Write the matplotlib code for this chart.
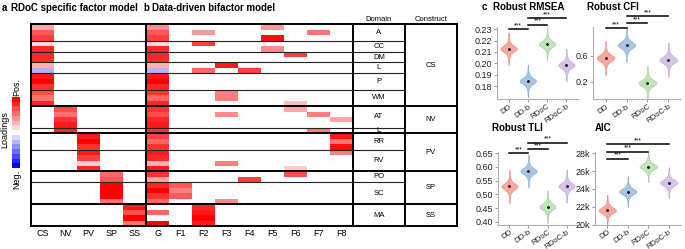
import numpy as np
import matplotlib
matplotlib.use("Agg")
import matplotlib.pyplot as plt
from matplotlib.colors import LinearSegmentedColormap

plt.rcParams['font.family'] = ['Liberation Sans', 'DejaVu Sans']

# ---------------- data ----------------
# domains (rows of heatmap) with number of items
domain_labels = ["A", "CC", "DM", "L", "P", "WM", "AT", "L", "RR", "RV", "PO", "SC", "MA"]
domain_sizes = [3, 2, 2, 2, 3, 3, 4, 1, 3, 4, 2, 4, 4]
construct_labels = ["CS", "NV", "PV", "SP", "SS"]
construct_ndomains = [6, 2, 2, 2, 1]

col_labels = ["CS", "NV", "PV", "SP", "SS", "G", "F1", "F2", "F3", "F4", "F5", "F6", "F7", "F8"]

z = [0.0]
CS = [0.35, 0.65, 0.75, 0.15, 0.85, 0.85, 0.85, 0.3, -0.3, 0.9, 1.0, 0.8, 0.7, 0.55, 0.85] + z * 22
NV = z * 15 + [0.7, 0.55, 0.8, 0.9, 0.85] + z * 17
PV = z * 20 + [0.9, 1.0, 0.8, 0.9, 0.75, 0.2, 0.85] + z * 10
SP = z * 27 + [0.6, 0.65, 1.0, 1.0, 1.0, 0.55] + z * 4
SS = z * 33 + [0.9, 0.7, 1.0, 0.55]
G = [0.45, 0.65, 0.75, 0.15, 0.85, 0.85, 0.85, 0.3, -0.3, 0.9, 1.0, 0.85, 0.8, 0.6, 0.85,
     0.8, 0.7, 0.85, 0.9, 0.8, 0.75, 0.6, 0.8, 0.9, 0.85, 0.3, 0.9, 0.8, 0.35, 0.85, 1.0,
     0.8, 0.6, 0.0, 0.6, 0.0, 1.0]
F1 = z * 29 + [0.65, 0.5, 0.65] + z * 5
F2 = [0, 0.4, 0, 0.75, 0, 0, 0, 0, 0.6] + z * 24 + [0.85, 0.9, 1.0, 0.9]
F3 = [0, 0, 0, 0, 0, 0, 0, 0.9, 0, 0, 0, 0, 0.5, 0.5, 0, 0, 0.45] + z * 8 + [0.5] + z * 6 + [0.45] + z * 4
F4 = z * 8 + [0.75] + z * 19 + [0.75] + z * 8
F5 = [0.4, 0, 0.95, 0, 0.45] + z * 32
F6 = z * 5 + [0.75] + z * 8 + [0.25, 0.35] + z * 10 + [0.2, 0.7] + z * 9
F7 = [0, 0.55] + z * 14 + [0.5, 0, 0, 0.5] + z * 17
F8 = z * 17 + [0.35, 0, 0, 0.9, 0.55, 0.95, 0.5] + z * 13

groups = ["DD", "DD-b", "RDoC", "RDoC-b"]
rmsea_center = [0.2130, 0.1845, 0.2170, 0.1985]
rmsea_spread = [0.0030, 0.0030, 0.0030, 0.0030]
cfi_center = [0.57, 0.77, 0.18, 0.54]
cfi_spread = [0.055, 0.055, 0.055, 0.055]
tli_center = [0.529, 0.585, 0.455, 0.530]
tli_spread = [0.0125, 0.0125, 0.0125, 0.0125]
aic_center = [21.6, 23.7, 26.5, 24.7]
aic_spread = [0.36, 0.36, 0.36, 0.36]

rmsea_sig = [(1, 2, 0.2300), (2, 3, 0.2338), (2, 4, 0.2398)]
cfi_sig = [(1, 2, 1.031), (2, 3, 1.109), (2, 4, 1.215)]
tli_sig = [(1, 2, 0.650), (2, 3, 0.664), (2, 4, 0.688)]
aic_sig = [(1, 2, 27.38), (1, 3, 28.17), (1, 4, 29.0)]

violin_fill = ["#F8A89E", "#A8C6E4", "#BFE5B8", "#D8C3E8"]
violin_edge = ["#E89088", "#8FB0D2", "#A5D09D", "#C2A9D6"]

# ---------------- figure ----------------
W, H = 685, 249
fig = plt.figure(figsize=(W / 100, H / 100), dpi=100)


def px_axes(l, t, r, b):
    return fig.add_axes([l / W, 1 - b / H, (r - l) / W, (b - t) / H])


def ftext(x, y, s, **kw):
    fig.text(x / W, 1 - y / H, s, **kw)


cmap = LinearSegmentedColormap.from_list("rwb", [(0, 0, 1), (1, 1, 1), (1, 0, 0)])

M = np.array([CS, NV, PV, SP, SS, G, F1, F2, F3, F4, F5, F6, F7, F8], dtype=float).T
nrow, ncol = M.shape

ax = px_axes(31, 24.3, 353, 226)
ax.pcolormesh(np.arange(ncol + 1), np.arange(nrow + 1), M, cmap=cmap, vmin=-1, vmax=1)
ax.set_xlim(0, ncol)
ax.set_ylim(nrow, 0)
ax.set_xticks(np.arange(ncol) + 0.5)
ax.set_xticklabels(col_labels, fontsize=6.5)
ax.tick_params(axis='x', length=0, pad=2.5)
ax.set_yticks([])
for s in ax.spines.values():
    s.set_linewidth(1.4)

dom_bounds = np.cumsum(domain_sizes)
con_bounds = []
k = 0
for n in construct_ndomains:
    k += n
    con_bounds.append(dom_bounds[k - 1])
for b in dom_bounds[:-1]:
    if b in con_bounds:
        ax.axhline(b, color='black', lw=1.4)
    else:
        ax.axhline(b, color='#222222', lw=0.8)
ax.axvline(5, color='black', lw=1.4)

# table
tb = px_axes(353, 24.3, 457, 226)
tb.set_xlim(0, 2)
tb.set_ylim(nrow, 0)
tb.set_xticks([])
tb.set_yticks([])
for s in tb.spines.values():
    s.set_linewidth(1.4)
tb.axvline(1, color='black', lw=1.4)
start = 0
for lab, n in zip(domain_labels, domain_sizes):
    tb.text(0.5, start + n / 2, lab, ha='center', va='center', fontsize=5.5)
    start += n
for b in dom_bounds[:-1]:
    if b in con_bounds:
        tb.plot([0, 2], [b, b], color='black', lw=1.4)
    else:
        tb.plot([0, 1], [b, b], color='#222222', lw=0.8)
prev = 0
for lab, b in zip(construct_labels, con_bounds):
    tb.text(1.5, (prev + b) / 2, lab, ha='center', va='center', fontsize=5.5)
    prev = b
tb.text(0.5, -0.3, "Domain", ha='center', va='bottom', fontsize=5.5)
tb.text(1.5, -0.3, "Construct", ha='center', va='bottom', fontsize=5.5)

# colorbar
cb = px_axes(12, 97, 20, 168)
cb.imshow(np.linspace(1, -1, 15).reshape(-1, 1), cmap=cmap, vmin=-1, vmax=1, aspect='auto')
cb.axis('off')
ftext(16.5, 87, "Pos.", rotation=90, ha='center', va='center', fontsize=6.5)
ftext(16.5, 179, "Neg.", rotation=90, ha='center', va='center', fontsize=6.5)
ftext(5, 130, "Loadings", rotation=90, ha='center', va='center', fontsize=6.5)

# panel titles
ftext(2, 8, "a", fontsize=7, fontweight='bold', va='center')
ftext(11, 8, "RDoC specific factor model", fontsize=7, fontweight='bold', va='center')
ftext(143, 8, "b", fontsize=7, fontweight='bold', va='center')
ftext(152, 8, "Data-driven bifactor model", fontsize=7, fontweight='bold', va='center')


# ---------------- violins ----------------
def t_density(center, spread):
    coords = np.linspace(center - 4.8 * spread, center + 4.8 * spread, 200)
    zz = (coords - center) / spread
    vals = (1 + zz ** 2 / 3.0) ** -2
    return dict(coords=coords, vals=vals, mean=center, median=center,
                min=coords[0], max=coords[-1])


def violin_panel(box, centers, spreads, ylim, yticks, yticklabels, sig):
    a = px_axes(*box)
    pos = np.arange(1, len(groups) + 1)
    stats = [t_density(c, s) for c, s in zip(centers, spreads)]
    parts = a.violin(stats, positions=pos, widths=0.85, showmeans=False,
                     showextrema=False, showmedians=False)
    for body, fc, ec in zip(parts['bodies'], violin_fill, violin_edge):
        body.set_facecolor(fc)
        body.set_edgecolor(ec)
        body.set_alpha(1)
        body.set_linewidth(0.5)
    a.scatter(pos, centers, s=1.0, color='black', zorder=3)
    a.set_xlim(0.4, 4.6)
    a.set_ylim(*ylim)
    a.set_yticks(yticks)
    a.set_yticklabels(yticklabels, fontsize=6.5, color='#222222')
    a.set_xticks(pos)
    a.set_xticklabels(groups, fontsize=5.6, rotation=35, ha='right', rotation_mode='anchor',
                      color='#222222')
    a.tick_params(length=2, width=0.6, color='#888888', pad=1.2)
    a.tick_params(axis='x', pad=0.8)
    for sp in ['top', 'right']:
        a.spines[sp].set_visible(False)
    for sp in ['left', 'bottom']:
        a.spines[sp].set_color('#b0b0b0')
        a.spines[sp].set_linewidth(0.8)
    rng = ylim[1] - ylim[0]
    for g1, g2, y in sig:
        a.plot([g1, g2], [y, y], color='black', lw=1.1, clip_on=False)
        a.text((g1 + g2) / 2, y + rng * 0.002, "***", ha='center', va='bottom',
               fontsize=4.8, clip_on=False)
    return a


violin_panel((497, 26.7, 578, 99.3), rmsea_center, rmsea_spread, (0.1683, 0.2323),
             [0.18, 0.19, 0.20, 0.21, 0.22, 0.23], ["0.18", "0.19", "0.20", "0.21", "0.22", "0.23"],
             rmsea_sig)
violin_panel((593, 26.7, 681, 99.3), cfi_center, cfi_spread, (-0.074, 1.056),
             [0.2, 0.6], ["0.2", "0.6"], cfi_sig)
violin_panel((498, 151.7, 578, 224.5), tli_center, tli_spread, (0.390, 0.6557),
             [0.40, 0.45, 0.50, 0.55, 0.60, 0.65], ["0.40", "0.45", "0.50", "0.55", "0.60", "0.65"],
             tli_sig)
violin_panel((595, 151.7, 681, 224.5), aic_center, aic_spread, (20.0, 28.17),
             [20, 22, 24, 26, 28], ["20k", "22k", "24k", "26k", "28k"], aic_sig)

ftext(482, 6.5, "c", fontsize=7, fontweight='bold', va='center')
ftext(493, 6.5, "Robust RMSEA", fontsize=7, fontweight='bold', va='center')
ftext(587, 6.5, "Robust CFI", fontsize=7, fontweight='bold', va='center')
ftext(492, 128, "Robust TLI", fontsize=7, fontweight='bold', va='center')
ftext(595, 128, "AIC", fontsize=7, fontweight='bold', va='center')

fig.savefig("out.png", dpi=100)
